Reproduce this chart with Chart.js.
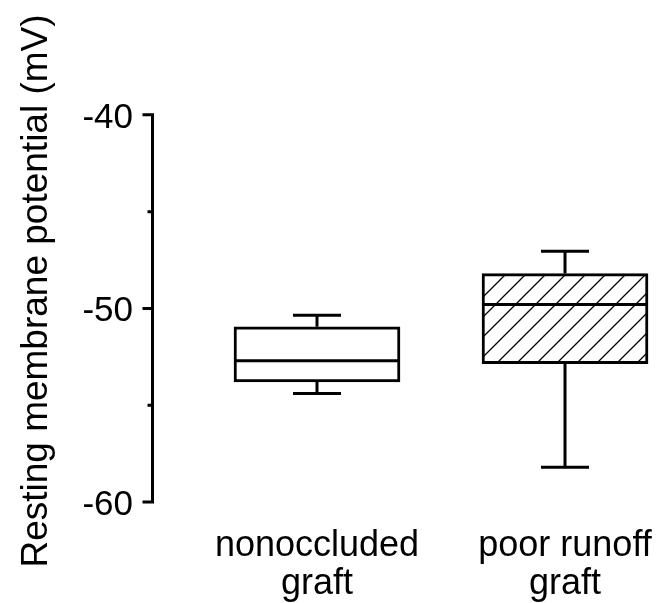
<!DOCTYPE html>
<html>
<head>
<meta charset="utf-8">
<script src="https://cdn.jsdelivr.net/npm/chart.js@4/dist/chart.umd.min.js"></script>
<style>
  html, body { margin: 0; padding: 0; background: #fff; }
  #wrap { width: 660px; height: 603px; }
</style>
</head>
<body>
<div id="wrap"><canvas id="boxChart" width="660" height="603"></canvas></div>
<script>
// datos (mV)
var categories = [['nonoccluded', 'graft'], ['poor runoff', 'graft']];
var xPositions = [1, 2];
var whiskerMin = [-54.4, -58.2];
var q1 = [-53.8, -52.85];
var median = [-52.7, -49.8];
var q3 = [-50.95, -48.2];
var whiskerMax = [-50.35, -47.05];
var yTickLabels = [-60, -50, -40];
var yMinorTicks = [-55, -45];

// patron rayado para la segunda caja
function makeHatch() {
    var size = 20;
    var c = document.createElement('canvas');
    c.width = size; c.height = size;
    var g = c.getContext('2d');
    g.fillStyle = '#fff';
    g.fillRect(0, 0, size, size);
    g.strokeStyle = '#000';
    g.lineWidth = 1.3;
    g.beginPath();
    g.moveTo(0, size); g.lineTo(size, 0);
    g.moveTo(-size / 2, size / 2); g.lineTo(size / 2, -size / 2);
    g.moveTo(size / 2, size * 1.5); g.lineTo(size * 1.5, size / 2);
    g.stroke();
    return g.createPattern(c, 'repeat');
}

var ctx = document.getElementById('boxChart').getContext('2d');

// bigotes, medianas y eje Y
var boxExtras = {
    id: 'boxExtras',
    afterDatasetsDraw: function (chart) {
        var c = chart.ctx;
        var xs = chart.scales.x, ys = chart.scales.y;
        c.save();
        c.strokeStyle = '#000';
        c.lineWidth = 3;
        c.lineCap = 'butt';
        for (var i = 0; i < xPositions.length; i++) {
            var x = xs.getPixelForValue(xPositions[i]);
            var half = 83, cap = 24;
            c.beginPath();
            c.moveTo(x - half, ys.getPixelForValue(median[i]));
            c.lineTo(x + half, ys.getPixelForValue(median[i]));
            c.moveTo(x, ys.getPixelForValue(q3[i]));
            c.lineTo(x, ys.getPixelForValue(whiskerMax[i]));
            c.moveTo(x - cap, ys.getPixelForValue(whiskerMax[i]));
            c.lineTo(x + cap, ys.getPixelForValue(whiskerMax[i]));
            c.moveTo(x, ys.getPixelForValue(q1[i]));
            c.lineTo(x, ys.getPixelForValue(whiskerMin[i]));
            c.moveTo(x - cap, ys.getPixelForValue(whiskerMin[i]));
            c.lineTo(x + cap, ys.getPixelForValue(whiskerMin[i]));
            c.stroke();
        }
        // linea del eje y marcas
        var ax = chart.chartArea.left + 0.5;
        var yTop = ys.getPixelForValue(yTickLabels[yTickLabels.length - 1]);
        var yBot = ys.getPixelForValue(yTickLabels[0]);
        c.beginPath();
        c.moveTo(ax, yTop - 1.5);
        c.lineTo(ax, yBot + 1.5);
        yTickLabels.forEach(function (v) {
            var y = ys.getPixelForValue(v);
            c.moveTo(ax - 10, y); c.lineTo(ax, y);
        });
        yMinorTicks.forEach(function (v) {
            var y = ys.getPixelForValue(v);
            c.moveTo(ax - 5, y); c.lineTo(ax, y);
        });
        c.stroke();
        c.restore();
    }
};

var boxChart = new Chart(ctx, {
    type: 'bar',
    data: {
        datasets: [{
            data: xPositions.map(function (x, i) { return { x: x, y: [q1[i], q3[i]] }; }),
            backgroundColor: ['#ffffff', makeHatch()],
            borderColor: '#000',
            borderWidth: 3,
            borderSkipped: false,
            barThickness: 166
        }]
    },
    options: {
        responsive: false,
        animation: false,
        devicePixelRatio: 1,
        layout: { padding: { top: 80, right: 0, bottom: 0, left: 0 } },
        plugins: {
            legend: { display: false },
            tooltip: { enabled: false }
        },
        scales: {
            x: {
                type: 'linear',
                offset: false,
                min: 0.3347,
                max: 2.383,
                grid: { display: false, offset: false },
                border: { display: false },
                afterBuildTicks: function (scale) {
                    scale.ticks = xPositions.map(function (v) { return { value: v }; });
                },
                afterFit: function (scale) {
                    scale.height = 101;
                    scale.paddingLeft = 0;
                    scale.paddingRight = 0;
                },
                ticks: {
                    autoSkip: false,
                    maxRotation: 0,
                    padding: 17,
                    color: '#000',
                    font: { family: '"Liberation Sans", Arial, sans-serif', size: 36, lineHeight: 1.05 },
                    callback: function (value, index) { return categories[index]; }
                }
            },
            y: {
                type: 'linear',
                min: -60,
                max: -38.2,
                grid: { display: false },
                border: { display: false },
                afterBuildTicks: function (scale) {
                    scale.ticks = yTickLabels.map(function (v) { return { value: v }; });
                },
                afterFit: function (scale) {
                    scale.width = 152;
                    scale.paddingTop = 0;
                    scale.paddingBottom = 0;
                },
                ticks: {
                    padding: 11,
                    labelOffset: 3,
                    color: '#000',
                    font: { family: '"Liberation Sans", Arial, sans-serif', size: 35 }
                },
                title: {
                    display: true,
                    text: 'Resting membrane potential (mV)',
                    color: '#000',
                    padding: { top: 15, bottom: 0 },
                    font: { family: '"Liberation Sans", Arial, sans-serif', size: 37 }
                }
            }
        }
    },
    plugins: [boxExtras]
});
</script>
</body>
</html>
